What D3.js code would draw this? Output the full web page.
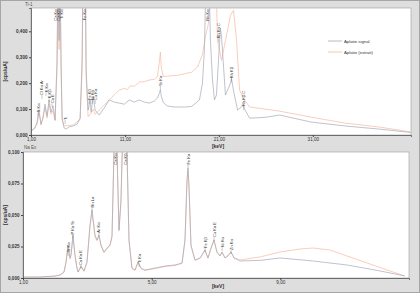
<!DOCTYPE html>
<html><head><meta charset="utf-8">
<script src="https://cdn.jsdelivr.net/npm/d3@7"></script>
<style>body{margin:0;background:#dcdcdc}svg{display:block}text{font-family:"Liberation Sans",Arial,sans-serif}</style>
</head><body><svg id="c" width="420" height="293"></svg>
<script>
// ---------- DATA ----------
const seriesNames = ["Aplatie signal", "Aplatie (extrait)"];
const topTitle = "Ti-1", bottomTitle = "Na Ex";
const yUnit = "[cps/uA]", xUnit = "[keV]";
const topXTicks = [1, 11, 21, 31];
const topYTicks = [0, 0.1, 0.2, 0.3, 0.4];
const bottomXTicks = [1, 5, 9];
const bottomYTicks = [0, 0.025, 0.05, 0.075, 0.1];

// top panel, [keV, cps/uA]
const topSignal = [[1.00,0.015],[1.43,0.027],[1.64,0.050],[1.85,0.096],[2.07,0.042],[2.28,0.065],[2.49,0.119],[2.71,0.073],[2.92,0.135],[3.13,0.088],[3.35,0.112],[3.56,0.058],[3.77,0.288],[3.88,0.70],[3.99,0.365],[4.09,0.70],[4.20,0.288],[4.31,0.065],[4.52,0.027],[4.74,0.023],[5.06,0.031],[5.48,0.035],[5.91,0.042],[6.23,0.065],[6.44,0.288],[6.55,0.75],[6.76,0.75],[6.87,0.25],[7.08,0.096],[7.30,0.135],[7.40,0.088],[7.62,0.150],[7.83,0.096],[8.26,0.077],[8.79,0.104],[9.32,0.135],[9.86,0.127],[10.39,0.123],[10.93,0.119],[11.46,0.135],[11.99,0.127],[12.53,0.135],[13.06,0.127],[13.59,0.123],[14.13,0.131],[14.45,0.142],[14.66,0.160],[14.77,0.175],[14.87,0.150],[15.09,0.125],[15.51,0.112],[16.26,0.108],[17.33,0.108],[18.08,0.110],[18.61,0.125],[18.93,0.135],[19.25,0.200],[19.46,0.330],[19.68,0.70],[19.89,0.70],[20.10,0.365],[20.32,0.212],[20.53,0.135],[20.74,0.154],[20.96,0.288],[21.17,0.412],[21.28,0.380],[21.70,0.154],[22.24,0.200],[22.34,0.219],[22.56,0.170],[22.99,0.096],[23.63,0.115],[23.73,0.100],[24.27,0.065],[25.90,0.068],[27.47,0.077],[30.80,0.050],[34.40,0.035],[38.00,0.023],[41.40,0.010]];
const topExtract = [[1.00,0.012],[1.64,0.040],[1.85,0.085],[2.07,0.038],[2.49,0.105],[2.71,0.065],[2.92,0.120],[3.13,0.080],[3.35,0.095],[3.56,0.055],[3.77,0.250],[3.88,0.60],[3.99,0.330],[4.09,0.60],[4.20,0.250],[4.31,0.060],[4.52,0.035],[5.48,0.038],[6.23,0.060],[6.44,0.250],[6.55,0.65],[6.76,0.65],[6.87,0.220],[7.08,0.070],[7.40,0.085],[7.62,0.100],[7.83,0.080],[8.26,0.096],[8.79,0.115],[9.32,0.135],[9.86,0.155],[10.39,0.173],[10.93,0.180],[11.25,0.175],[11.57,0.190],[11.99,0.188],[12.53,0.204],[13.06,0.206],[13.59,0.212],[14.13,0.215],[14.45,0.225],[14.66,0.280],[14.77,0.320],[14.87,0.260],[15.09,0.225],[15.73,0.228],[16.58,0.230],[17.33,0.236],[18.08,0.242],[18.72,0.262],[19.25,0.310],[19.57,0.380],[19.89,0.430],[20.32,0.70],[20.64,0.70],[20.85,0.365],[21.28,0.288],[21.70,0.365],[22.24,0.462],[22.56,0.481],[22.88,0.365],[23.20,0.173],[23.73,0.135],[24.27,0.108],[25.90,0.100],[27.47,0.092],[30.80,0.069],[34.40,0.046],[38.00,0.031],[41.40,0.012]];

// bottom panel, [keV, cps/uA]
const bottomSignal = [[1.000,0.0008],[1.528,0.0008],[1.995,0.0016],[2.150,0.0024],[2.274,0.0048],[2.337,0.0127],[2.399,0.0262],[2.461,0.0159],[2.492,0.0183],[2.554,0.0341],[2.616,0.0183],[2.679,0.0079],[2.710,0.0048],[2.803,0.0095],[2.896,0.0056],[2.989,0.0127],[3.083,0.0421],[3.145,0.0540],[3.238,0.0341],[3.300,0.0302],[3.362,0.0341],[3.425,0.0262],[3.518,0.0206],[3.611,0.0238],[3.704,0.0262],[3.767,0.0333],[3.829,0.1016],[3.860,0.14],[3.891,0.14],[3.922,0.1016],[3.984,0.0381],[4.046,0.0619],[4.108,0.125],[4.140,0.14],[4.171,0.14],[4.233,0.1016],[4.295,0.0302],[4.388,0.0079],[4.482,0.0063],[4.575,0.0127],[4.668,0.0079],[4.792,0.0063],[5.103,0.0079],[5.414,0.0095],[5.725,0.0103],[5.943,0.0119],[6.036,0.0302],[6.098,0.0778],[6.129,0.0873],[6.160,0.0738],[6.222,0.0262],[6.347,0.0143],[6.502,0.0159],[6.657,0.0222],[6.751,0.0159],[6.844,0.0238],[6.937,0.0302],[7.030,0.0206],[7.124,0.0175],[7.186,0.0206],[7.279,0.0159],[7.373,0.0175],[7.466,0.0206],[7.559,0.0159],[7.745,0.0135],[8.367,0.0140],[8.989,0.0159],[10.02,0.0135],[11.08,0.0103],[12.10,0.0056],[12.87,0.0016]];
const bottomExtract = [[1.000,0.0006],[1.528,0.0007],[1.995,0.0014],[2.150,0.0022],[2.274,0.0044],[2.337,0.0120],[2.399,0.0250],[2.461,0.0150],[2.492,0.0176],[2.554,0.0330],[2.616,0.0176],[2.679,0.0075],[2.710,0.0046],[2.803,0.0090],[2.896,0.0052],[2.989,0.0120],[3.083,0.0405],[3.145,0.0525],[3.238,0.0330],[3.300,0.0295],[3.362,0.0332],[3.425,0.0255],[3.518,0.0200],[3.611,0.0232],[3.704,0.0255],[3.767,0.0325],[3.829,0.0990],[3.860,0.14],[3.891,0.14],[3.922,0.0990],[3.984,0.0372],[4.046,0.0600],[4.108,0.122],[4.140,0.14],[4.171,0.14],[4.233,0.0990],[4.295,0.0295],[4.388,0.0075],[4.482,0.0060],[4.575,0.0122],[4.668,0.0075],[4.792,0.0060],[5.103,0.0075],[5.414,0.0090],[5.725,0.0100],[5.943,0.0115],[6.036,0.0295],[6.098,0.0760],[6.129,0.0855],[6.160,0.0720],[6.222,0.0255],[6.347,0.0140],[6.502,0.0155],[6.657,0.0218],[6.751,0.0157],[6.844,0.0235],[6.937,0.0298],[7.030,0.0204],[7.124,0.0175],[7.186,0.0206],[7.279,0.0160],[7.373,0.0178],[7.466,0.0208],[7.559,0.0162],[7.745,0.0143],[8.367,0.0167],[8.989,0.0206],[9.611,0.0230],[10.02,0.0238],[10.54,0.0222],[11.07,0.0175],[11.79,0.0111],[12.41,0.0056],[12.87,0.0016]];

// peak labels: [keV, value at label foot (null = top of plot), text]
const topPeakLabels = [[1.75,0.088,"S Kα"],[2.17,0.154,"Cl Kα Ar"],[2.60,0.165,"K Kα"],[2.92,0.142,"K Kβ"],[3.24,0.123,"Ca E"],[3.56,null,"Ca Kα"],[3.88,null,"Ca Kβ"],[4.20,null,"Ti Kα"],[4.63,0.058,"Ti"],[6.66,null,"Fe Kα"],[7.19,0.135,"Fe Kβ"],[7.51,0.135,"Ni Kα"],[7.83,0.135,"Cu Kα"],[14.77,0.190,"Sr Kα"],[19.78,null,"Rh Kα"],[20.96,0.373,"Rh Kα C"],[22.34,0.219,"Rh Kβ"],[23.63,0.112,"Rh Kβ C"]];
const bottomPeakLabels = [[2.40,0.0206,"Si Kα"],[2.55,0.0345,"P Kα Sr"],[2.80,0.0103,"Ca Kα E"],[3.15,0.0560,"Rh Lα"],[3.36,0.0360,"Ar Kα"],[3.89,null,"Ca Kα"],[4.20,null,"Ca Kβ"],[4.61,0.0119,"Ti Kα"],[6.13,0.0900,"Fe Kα"],[6.66,0.0238,"Fe Kβ"],[6.94,0.0325,"Cu Kα E"],[7.19,0.0246,"Ni Kα"],[7.47,0.0222,"Zn Kα"]];

const colors = ["#a4a9b8", "#f5b9a1"];

// ---------- DRAW ----------
const svg = d3.select("#c");
svg.append("rect").attr("x",0.5).attr("y",0.5).attr("width",419).attr("height",292)
  .attr("fill","#dedede").attr("stroke","#a6a6a6");
const fmt = (digits) => (d => d3.format("." + digits + "f")(d).replace(".", ","));

function panel(o, idx) {
  const [l, t, r, b] = o.plot;
  const g = svg.append("g");
  g.append("rect").attr("x", l).attr("y", t).attr("width", r - l).attr("height", b - t)
    .attr("fill", "#fff").attr("stroke", "#a8a8a8").attr("stroke-width", 0.7);
  const x = d3.scaleLinear().domain(o.xDomain).range([l, r]);
  const y = d3.scaleLinear().domain(o.yDomain).range([b, t]);
  const cid = "clip" + idx;
  svg.append("clipPath").attr("id", cid).append("rect")
    .attr("x", l).attr("y", t).attr("width", r - l).attr("height", b - t);

  const line = d3.line().x(d => x(d[0])).y(d => y(d[1]));
  const lg = g.append("g").attr("clip-path", `url(#${cid})`);
  [o.series[1], o.series[0]].forEach((s, i) => {
    lg.append("path").datum(s).attr("d", line).attr("fill", "none")
      .attr("stroke", colors[1 - i]).attr("stroke-width", 0.7).attr("stroke-linejoin", "round");
  });

  // axes
  const ya = d3.axisLeft(y).tickValues(o.yTicks).tickSize(2).tickPadding(1.5).tickFormat(fmt(3));
  const yg = g.append("g").attr("transform", `translate(${l},0)`).call(ya);
  yg.select(".domain").attr("stroke", "#444").attr("stroke-width", 0.7);
  yg.selectAll("line").attr("stroke", "#444");
  yg.selectAll("text").attr("font-size", 4.6).attr("fill", "#333").attr("font-weight", "bold");

  const xa = d3.axisBottom(x).tickValues(o.xTicks).tickSize(2).tickPadding(1).tickFormat(fmt(2));
  const xg = g.append("g").attr("transform", `translate(0,${b})`).call(xa);
  xg.select(".domain").attr("stroke", "#444").attr("stroke-width", 0.7);
  xg.selectAll("line").attr("stroke", "#444");
  xg.selectAll("text").attr("font-size", 4.6).attr("fill", "#333");

  g.append("text").attr("x", o.keVx).attr("y", o.keVy).attr("text-anchor", "middle")
    .attr("font-size", 5).attr("fill", "#333").attr("font-weight", "bold").text(xUnit);
  g.append("text").attr("transform", `translate(7,${(t + b) / 2}) rotate(-90)`)
    .attr("text-anchor", "middle").attr("font-size", 5).attr("fill", "#333").attr("font-weight", "bold").text(yUnit);
  g.append("text").attr("x", o.titleX).attr("y", o.titleY).attr("font-size", 4.5).attr("fill", "#555").text(o.title);

  // peak labels
  o.labels.forEach(([k, v, txt]) => {
    const px = x(k);
    const tx = g.append("text").attr("font-size", 4).attr("fill", "#333").text(txt);
    if (v === null) {
      tx.attr("text-anchor", "end").attr("transform", `translate(${px + 1.5},${t + 1.5}) rotate(-90)`);
    } else {
      tx.attr("text-anchor", "start").attr("transform", `translate(${px + 1.5},${y(v)}) rotate(-90)`);
      g.append("line").attr("x1", px).attr("x2", px).attr("y1", y(v)).attr("y2", y(v) + 4)
        .attr("stroke", "#666").attr("stroke-width", 0.35);
    }
  });
}

panel({plot:[31, 8, 411, 135], xDomain:[1, 41.45], yDomain:[0, 0.49], xTicks: topXTicks, yTicks: topYTicks,
  series:[topSignal, topExtract], labels: topPeakLabels, keVx: 218, keVy: 147.5, title: topTitle, titleX: 25, titleY: 5.5}, 0);
panel({plot:[23, 152, 409, 278], xDomain:[1, 13], yDomain:[0, 0.1], xTicks: bottomXTicks, yTicks: bottomYTicks,
  series:[bottomSignal, bottomExtract], labels: bottomPeakLabels, keVx: 218, keVy: 287.5, title: bottomTitle, titleX: 24, titleY: 148.5}, 1);

// legend (top panel)
const lgd = svg.append("g");
seriesNames.forEach((n, i) => {
  const yy = 41 + i * 11;
  lgd.append("line").attr("x1", 328).attr("x2", 342).attr("y1", yy).attr("y2", yy)
    .attr("stroke", colors[i]).attr("stroke-width", 0.8);
  lgd.append("text").attr("x", 344).attr("y", yy + 1.6).attr("font-size", 4.3).attr("fill", "#333").text(n);
});
</script></body></html>
